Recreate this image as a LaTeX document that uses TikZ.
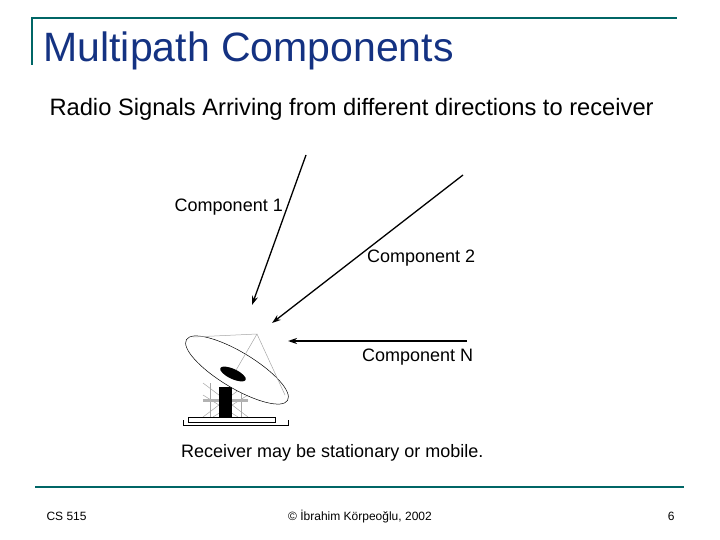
\documentclass[tikz,border=0pt]{standalone}
\usepackage{fontspec}
\setmainfont{Liberation Sans}
\begin{document}
\begin{tikzpicture}[x=1pt,y=-1pt,
  rule/.style={draw=teal!80!black,line width=2pt},
  ray/.style={-{Stealth[length=9pt,width=6pt]},line width=1.3pt},
  lbl/.style={font=\fontsize{18}{21}\selectfont,inner sep=1pt}]
\usetikzlibrary{arrows.meta}
\useasboundingbox (0,0) rectangle (720,540);
\draw[rule] (32,65) -- (32,18) -- (677,18);
\draw[rule] (35,487) -- (684,487);
\node[anchor=west,font=\fontsize{41}{46}\selectfont,text={rgb,255:red,20;green,50;blue,130}] (title) at (40,51) {Multipath Components};
\node[anchor=west,font=\fontsize{23.7}{27}\selectfont] (sub) at (46,109) {Radio Signals Arriving from different directions to receiver};
\coordinate (a1) at (306,155); \coordinate (b1) at (252,305);
\coordinate (a2) at (463,175); \coordinate (b2) at (272,323);
\coordinate (a3) at (467,341); \coordinate (b3) at (288,341);
\draw[ray] (a1) -- (b1);
\draw[ray] (a2) -- (b2);
\draw[ray] (a3) -- (b3);
\node[lbl,anchor=east] (c1) at (284,207) {Component 1};
\node[lbl,anchor=west] (c2) at (366,258) {Component 2};
\node[lbl,anchor=west] (cn) at (361,357) {Component N};
\node[lbl,anchor=west] (rx) at (180,453) {Receiver may be stationary or mobile.};
\node[anchor=west,font=\fontsize{12}{14}\selectfont] (cs) at (43,516) {CS 515};
\node[font=\fontsize{12}{14}\selectfont] (cp) at (360,517) {© İbrahim Körpeoğlu, 2002};
\node[anchor=east,font=\fontsize{12}{14}\selectfont] (pg) at (678,516) {6};
% dish
\begin{scope}[line width=0.5pt]
\draw[gray!70] (203,383) -- (248,417) (248,383) -- (203,417) (203,400)--(248,400);
\draw[gray!70] (210,383) -- (210,417) (241,383)--(241,417);
\draw[gray!70] (203,395) -- (238,417) (248,395)--(213,417);
\fill[gray!60] (203,399) rectangle (248,402);
\fill (219,387) rectangle (232,417);
\draw (188,417) rectangle (275,422);
\draw (183,420) -- (183,425) -- (288,425) -- (288,420);
\draw[fill=white] (237,370) ellipse [x radius=59,y radius=18,rotate=-31];
\draw[gray!70] (193,337) -- (257,334) -- (285,395) (257,334) -- (235,372);
\fill (233,374) ellipse [x radius=14,y radius=5,rotate=-25];
\end{scope}
\end{tikzpicture}
\end{document}
